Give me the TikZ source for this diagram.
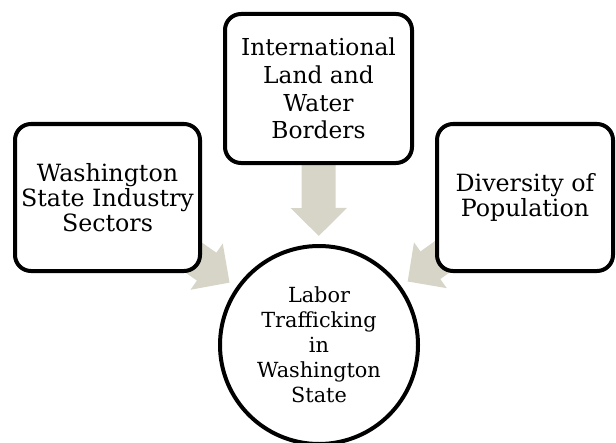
\documentclass[tikz,border=0pt]{standalone}
\usepackage{fontspec}
\setmainfont{DejaVu Serif}
\usepackage{tikz}
\usetikzlibrary{arrows.meta}
\pgfdeclarelayer{background}
\pgfsetlayers{background,main}
\definecolor{feedgray}{RGB}{214,213,200}

\begin{document}
\begin{tikzpicture}[x=0.75pt, y=-0.75pt,
    factor/.style={draw, line width=3pt, rounded corners=12pt, fill=white,
      align=center, inner sep=0pt, font=\fontsize{17.8}{18.75}\selectfont},
    feed/.style={feedgray, line width=25.5pt,
      -{Triangle[width=41pt,length=21pt]}, shorten >=6pt}]
	  \useasboundingbox (0,0) rectangle (616,442);
	  \clip (0,0) rectangle (616,442);

	  \node [factor, minimum width=138.75pt, minimum height=110.25pt]
	        (sectors) at (107.5,197.5) {Washington\\State Industry\\Sectors};
	  \node [factor, minimum width=140.25pt, minimum height=111.75pt,
	         font=\fontsize{17.5}{20.8}\selectfont]
	        (borders) at (318.5,88.5) {International\\Land and\\Water\\Borders};
	  \node [factor, minimum width=132pt, minimum height=110.25pt]
	        (diversity) at (525,197.5) {Diversity of\\Population};

	  \node [circle, draw, line width=3pt, fill=white, minimum size=148.5pt,
	         inner sep=0pt, align=center, font=\fontsize{15.6}{18.75}\selectfont]
	        (labor) at (319,345) {Labor\\Trafficking\\in\\Washington\\State};

	  \begin{pgfonlayer}{background}
	  \draw [feed] (sectors.center) to (labor);
	  \draw [feed] (borders.center) to (labor);
	  \draw [feed] (diversity.center) to (labor);
	  \end{pgfonlayer}
	\end{tikzpicture}
\end{document}
